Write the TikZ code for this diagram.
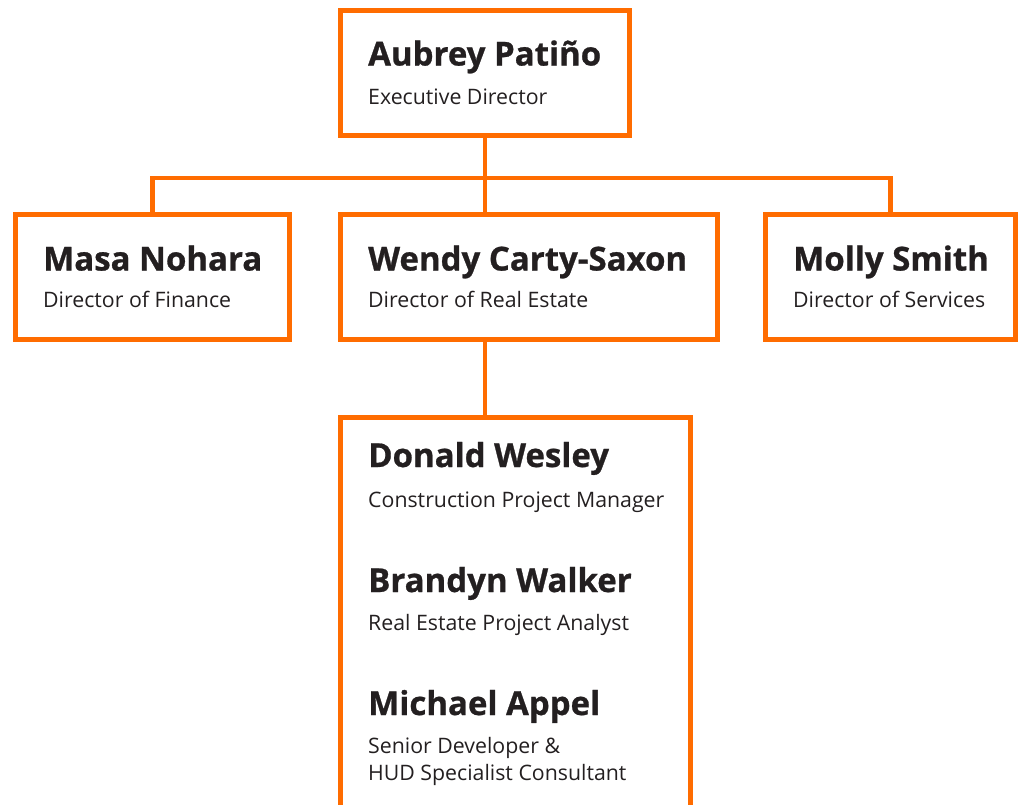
\documentclass[tikz,border=0pt]{standalone}
\usepackage{fontspec}
\setmainfont{Open Sans}[BoldFeatures={FakeBold=0.8}]
\usetikzlibrary{calc}
\definecolor{orgorange}{RGB}{255,108,0}
\definecolor{orgtext}{RGB}{35,31,32}

\begin{document}
\begin{tikzpicture}[x=1pt,y=-1pt,
	box/.style={draw=orgorange,line width=5pt,inner sep=0pt,outer sep=0pt,anchor=north west},
	link/.style={draw=orgorange,line width=4.5pt},
	person/.style={anchor=base west,inner sep=0pt,text=orgtext,font=\bfseries\fontsize{33}{33}\selectfont},
	role/.style={anchor=base west,inner sep=0pt,text=orgtext,align=left,font=\fontsize{21.3}{27}\selectfont}]
	%\draw[help lines] (0,0) grid (1018,804);
	\clip (0,0) rectangle (1018,804);
	% boxes
	\node[box,minimum width=289pt,minimum height=125pt] (exec) at (340.5,10.5) {};
	\node[box,minimum width=274pt,minimum height=125pt] (fin) at (15.5,214.5) {};
	\node[box,minimum width=377pt,minimum height=125pt] (real) at (340.5,214.5) {};
	\node[box,minimum width=250pt,minimum height=125pt] (serv) at (765.5,214.5) {};
	\node[box,minimum width=350pt,minimum height=400pt] (team) at (340.5,417) {};
	% texts
	\node[person] (aubrey) at ($(exec.north west)+(27.5,55)$) {Aubrey Patiño};
	\node[role] (execrole) at ($(exec.north west)+(27.5,94)$) {Executive Director};
	\node[person] (masa) at ($(fin.north west)+(27.5,56)$) {Masa Nohara};
	\node[role] (finrole) at ($(fin.north west)+(27.5,93)$) {Director of Finance};
	\node[person] (wendy) at ($(real.north west)+(27.5,56)$) {Wendy Carty-Saxon};
	\node[role] (realrole) at ($(real.north west)+(27.5,93)$) {Director of Real Estate};
	\node[person] (molly) at ($(serv.north west)+(27.5,56)$) {Molly Smith};
	\node[role] (servrole) at ($(serv.north west)+(27.5,93)$) {Director of Services};
	\node[person] (donald) at ($(team.north west)+(27.5,50)$) {Donald Wesley};
	\node[role] (donaldrole) at ($(team.north west)+(27.5,90)$) {Construction Project Manager};
	\node[person] (brandyn) at ($(team.north west)+(27.5,175)$) {Brandyn Walker};
	\node[role] (brandynrole) at ($(team.north west)+(27.5,213)$) {Real Estate Project Analyst};
	\node[person] (michael) at ($(team.north west)+(27.5,298)$) {Michael Appel};
	% base of a two-line node is its last line
	\node[role] (michaelrole) at ($(team.north west)+(27.5,363)$) {Senior Developer \&\\HUD Specialist Consultant};
	% connectors
	\coordinate (bus) at ($(exec.south)+(0,42.5)$);
	\draw[link] (exec.south) -- (exec.south |- real.north);
	\draw[link] (fin.north) |- (bus) -| (serv.north);
	\draw[link] (real.south -| exec.south) -- (team.north -| exec.south);
\end{tikzpicture}
\end{document}
